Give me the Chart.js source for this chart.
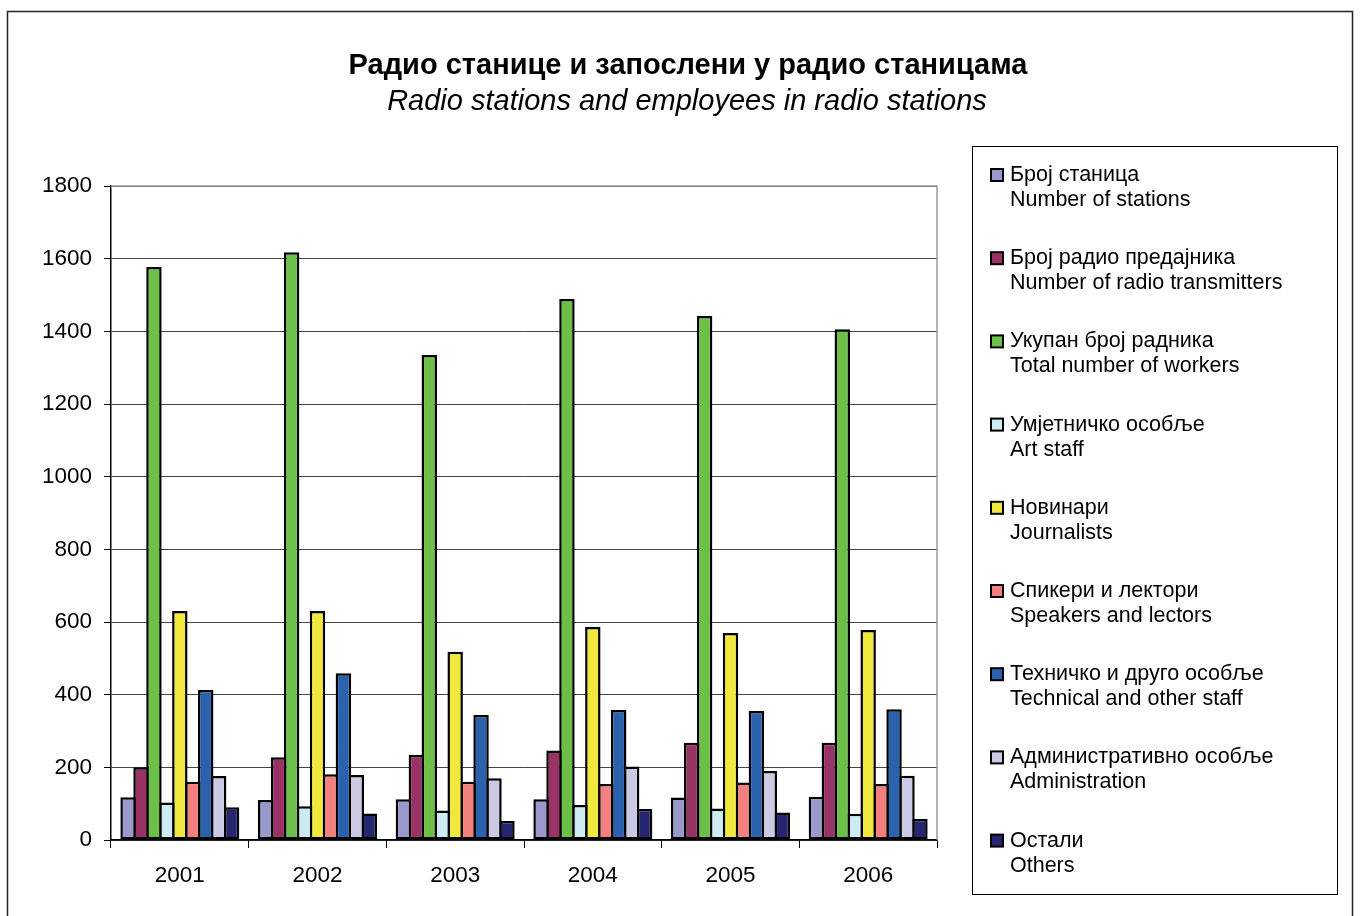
<!DOCTYPE html>
<html>
<head>
<meta charset="utf-8">
<script src="https://cdn.jsdelivr.net/npm/chart.js@4/dist/chart.umd.min.js"></script>
<style>
  body { margin: 0; background: #fff; }
  #wrap { position: relative; width: 1360px; height: 916px; }
</style>
</head>
<body>
<div id="wrap"><canvas id="radioChart"></canvas></div>
<script>
// categories
const years = ['2001', '2002', '2003', '2004', '2005', '2006'];

// series values
const stations     = [118, 110, 112, 112, 117, 119];
const transmitters = [200, 228, 234, 246, 268, 268];
const totalWorkers = [1577, 1618, 1335, 1489, 1442, 1406];
const artStaff     = [103, 93, 81, 96, 87, 72];
const journalists  = [630, 630, 518, 586, 570, 578];
const speakers     = [160, 181, 160, 154, 158, 154];
const technical    = [413, 459, 344, 358, 355, 360];
const admin        = [176, 179, 170, 202, 190, 177];
const others       = [90, 73, 52, 85, 76, 58];

// tick labels
const yTicks = [0, 200, 400, 600, 800, 1000, 1200, 1400, 1600, 1800];

const seriesNames = [
    ['Број станица', 'Number of stations'],
    ['Број радио предајника', 'Number of radio transmitters'],
    ['Укупан број радника', 'Total number of workers'],
    ['Умјетничко особље', 'Art staff'],
    ['Новинари', 'Journalists'],
    ['Спикери и лектори', 'Speakers and lectors'],
    ['Техничко и друго особље', 'Technical and other staff'],
    ['Административно особље', 'Administration'],
    ['Остали', 'Others']
];
const seriesData = [stations, transmitters, totalWorkers, artStaff, journalists, speakers, technical, admin, others];
const seriesColors = ['#9999CC', '#993366', '#6CBF47', '#CCECF2', '#F0E83C', '#F47F7F', '#2A62AD', '#CCC9E4', '#262670'];

const FONT = "'Liberation Sans', Arial, sans-serif";

// titles, frame and the two-line legend box
const decorPlugin = {
    id: 'decor',
    afterDraw(chart) {
        const ctx = chart.ctx;
        ctx.save();
        // outer frame
        ctx.strokeStyle = '#222';
        ctx.lineWidth = 1.5;
        ctx.strokeRect(7.5, 11.5, 1345, 930);

        // titles
        ctx.fillStyle = '#000';
        ctx.textAlign = 'center';
        ctx.textBaseline = 'middle';
        ctx.font = "bold 29px " + FONT;
        ctx.fillText('Радио станице и запослени у радио станицама', 688, 66);
        ctx.font = "italic 29px " + FONT;
        ctx.fillText('Radio stations and employees in radio stations', 687, 102);

        // legend
        ctx.strokeStyle = '#000';
        ctx.lineWidth = 1;
        ctx.strokeRect(972.5, 146.5, 365, 748);
        ctx.textAlign = 'left';
        ctx.font = "21.5px " + FONT;
        chart.data.datasets.forEach((ds, i) => {
            const y = 175 + i * 83.2;
            ctx.fillStyle = ds.backgroundColor;
            ctx.fillRect(991, y - 6, 12, 12);
            ctx.lineWidth = 2;
            ctx.strokeRect(991, y - 6, 12, 12);
            ctx.fillStyle = '#000';
            ctx.fillText(seriesNames[i][0], 1010, y);
            ctx.fillText(seriesNames[i][1], 1010, y + 25);
        });
        ctx.restore();
    }
};

new Chart(document.getElementById('radioChart'), {
    type: 'bar',
    data: {
        labels: years,
        datasets: seriesData.map((d, i) => ({
            label: seriesNames[i].join(' / '),
            data: d,
            backgroundColor: seriesColors[i],
            borderColor: '#000',
            borderWidth: 2.5,
            borderSkipped: false,
            // bars overlap by one border width so neighbours share an outline
            barPercentage: 1.193,
            categoryPercentage: 0.846
        }))
    },
    options: {
        responsive: true,
        maintainAspectRatio: false,
        animation: false,
        layout: { padding: { left: 8, right: 423, top: 186, bottom: 0 } },
        scales: {
            y: {
                min: 0,
                max: 1800,
                afterBuildTicks: s => { s.ticks = yTicks.map(v => ({ value: v })); },
                afterFit: s => { s.width = 103; },
                grid: { color: '#444', lineWidth: 1, tickLength: 7, tickColor: '#000' },
                border: { color: '#000', width: 1.5 },
                ticks: { color: '#000', font: { family: FONT, size: 22.5 }, padding: 12, callback: v => String(v) }
            },
            x: {
                afterFit: s => { s.height = 76; },
                grid: { offset: true, drawOnChartArea: false, tickLength: 8, tickColor: '#000' },
                border: { color: '#000', width: 1.5 },
                ticks: { color: '#000', font: { family: FONT, size: 22.5 }, padding: 14 }
            }
        },
        plugins: {
            legend: { display: false },
            title: { display: false },
            tooltip: { enabled: false }
        }
    },
    plugins: [decorPlugin, {
        id: 'plotBorder',
        beforeDatasetsDraw(chart) {
            const a = chart.chartArea, ctx = chart.ctx;
            ctx.save();
            ctx.strokeStyle = '#999';
            ctx.lineWidth = 1.5;
            ctx.beginPath();
            ctx.moveTo(a.left, a.top);
            ctx.lineTo(a.right, a.top);
            ctx.lineTo(a.right, a.bottom);
            ctx.stroke();
            ctx.restore();
        }
    }]
});
</script>
</body>
</html>
